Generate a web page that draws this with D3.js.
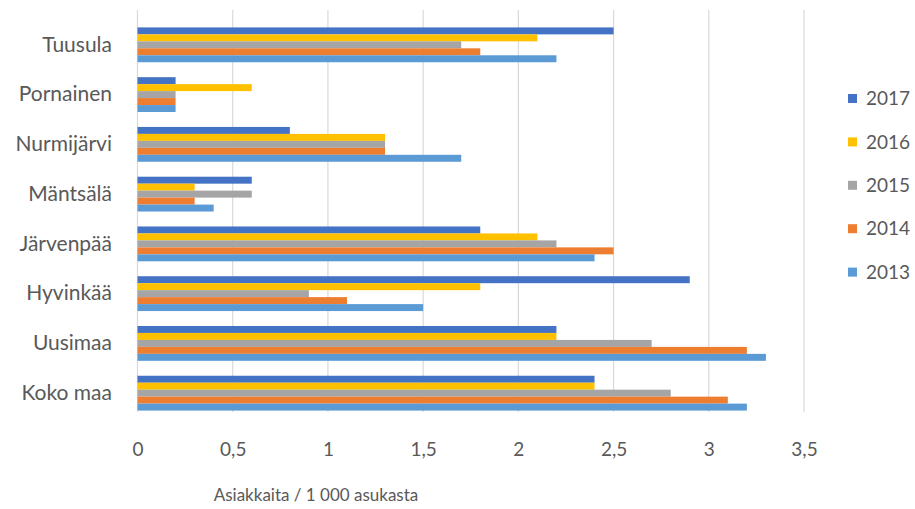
<!DOCTYPE html>
<html>
<head>
<meta charset="utf-8">
<script src="https://cdn.jsdelivr.net/npm/d3@7"></script>
<style>
  html, body { margin: 0; padding: 0; background: #ffffff; }
  svg { display: block; }
  text { font-family: Lato, "Open Sans", sans-serif; fill: #595959; }
</style>
</head>
<body>
<div id="chart"></div>
<script>
// ---- Data ----
const categories = ["Tuusula", "Pornainen", "Nurmijärvi", "Mäntsälä", "Järvenpää", "Hyvinkää", "Uusimaa", "Koko maa"];
const seriesNames = ["2017", "2016", "2015", "2014", "2013"];
const values2017 = [2.5, 0.2, 0.8, 0.6, 1.8, 2.9, 2.2, 2.4];
const values2016 = [2.1, 0.6, 1.3, 0.3, 2.1, 1.8, 2.2, 2.4];
const values2015 = [1.7, 0.2, 1.3, 0.6, 2.2, 0.9, 2.7, 2.8];
const values2014 = [1.8, 0.2, 1.3, 0.3, 2.5, 1.1, 3.2, 3.1];
const values2013 = [2.2, 0.2, 1.7, 0.4, 2.4, 1.5, 3.3, 3.2];
const tickValues = [0, 0.5, 1, 1.5, 2, 2.5, 3, 3.5];
const tickLabels = ["0", "0,5", "1", "1,5", "2", "2,5", "3", "3,5"];
const axisTitle = "Asiakkaita / 1 000 asukasta";

const seriesValues = [values2017, values2016, values2015, values2014, values2013];
const colors = ["#4472C4", "#FFC000", "#A5A5A5", "#ED7D31", "#5B9BD5"];

// ---- Layout ----
const W = 915, H = 509;
const svg = d3.select("#chart").append("svg").attr("width", W).attr("height", H);

const x = d3.scaleLinear().domain([0, 3.5]).range([137.5, 804]);
const y = d3.scaleBand().domain(categories).range([10, 428]).paddingInner(0.3).paddingOuter(0.35);
const ySeries = d3.scaleBand().domain(seriesNames).range([0, y.bandwidth()]);

const gridTop = 10, gridBottom = 412;

// gridlines
svg.append("g").selectAll("line").data(tickValues).join("line")
  .attr("x1", d => x(d)).attr("x2", d => x(d))
  .attr("y1", gridTop).attr("y2", gridBottom)
  .attr("stroke", "#D9D9D9").attr("stroke-width", 1.2);

// bars
const groups = svg.append("g").selectAll("g").data(categories).join("g")
  .attr("transform", c => `translate(0,${y(c)})`);

groups.selectAll("rect")
  .data((c, i) => seriesNames.map((s, j) => ({ s, j, v: seriesValues[j][i] })))
  .join("rect")
  .attr("x", x(0))
  .attr("y", d => ySeries(d.s))
  .attr("width", d => x(d.v) - x(0))
  .attr("height", ySeries.bandwidth())
  .attr("fill", d => colors[d.j]);

// x axis labels
const xAxis = d3.axisBottom(x).tickValues(tickValues).tickFormat((d, i) => tickLabels[i]).tickSize(0).tickPadding(0);
const gx = svg.append("g").attr("transform", `translate(0,${gridBottom})`).call(xAxis);
gx.select(".domain").remove();
gx.selectAll("text").attr("font-family", "Lato, 'Open Sans', sans-serif").attr("font-size", 19)
  .attr("fill", "#595959").attr("y", 0).attr("dy", "0").attr("transform", "translate(0,44)");

// y axis labels
const yAxis = d3.axisLeft(y).tickSize(0).tickPadding(0);
const gy = svg.append("g").attr("transform", `translate(112,0)`).call(yAxis);
gy.select(".domain").remove();
gy.selectAll("text").attr("font-family", "Lato, 'Open Sans', sans-serif").attr("font-size", 21)
  .attr("fill", "#595959").attr("x", 0);

// axis title
svg.append("text").attr("x", 316).attr("y", 501).attr("text-anchor", "middle")
  .attr("font-size", 17).text(axisTitle);

// legend
const legend = svg.append("g").selectAll("g").data(seriesNames).join("g")
  .attr("transform", (d, i) => `translate(848,${98.5 + i * 43.4})`);
legend.append("rect").attr("x", 0).attr("y", -4.5).attr("width", 9).attr("height", 9)
  .attr("fill", (d, i) => colors[i]);
legend.append("text").attr("x", 18).attr("y", 0).attr("dy", "0.35em")
  .attr("font-size", 19).text(d => d);
</script>
</body>
</html>
